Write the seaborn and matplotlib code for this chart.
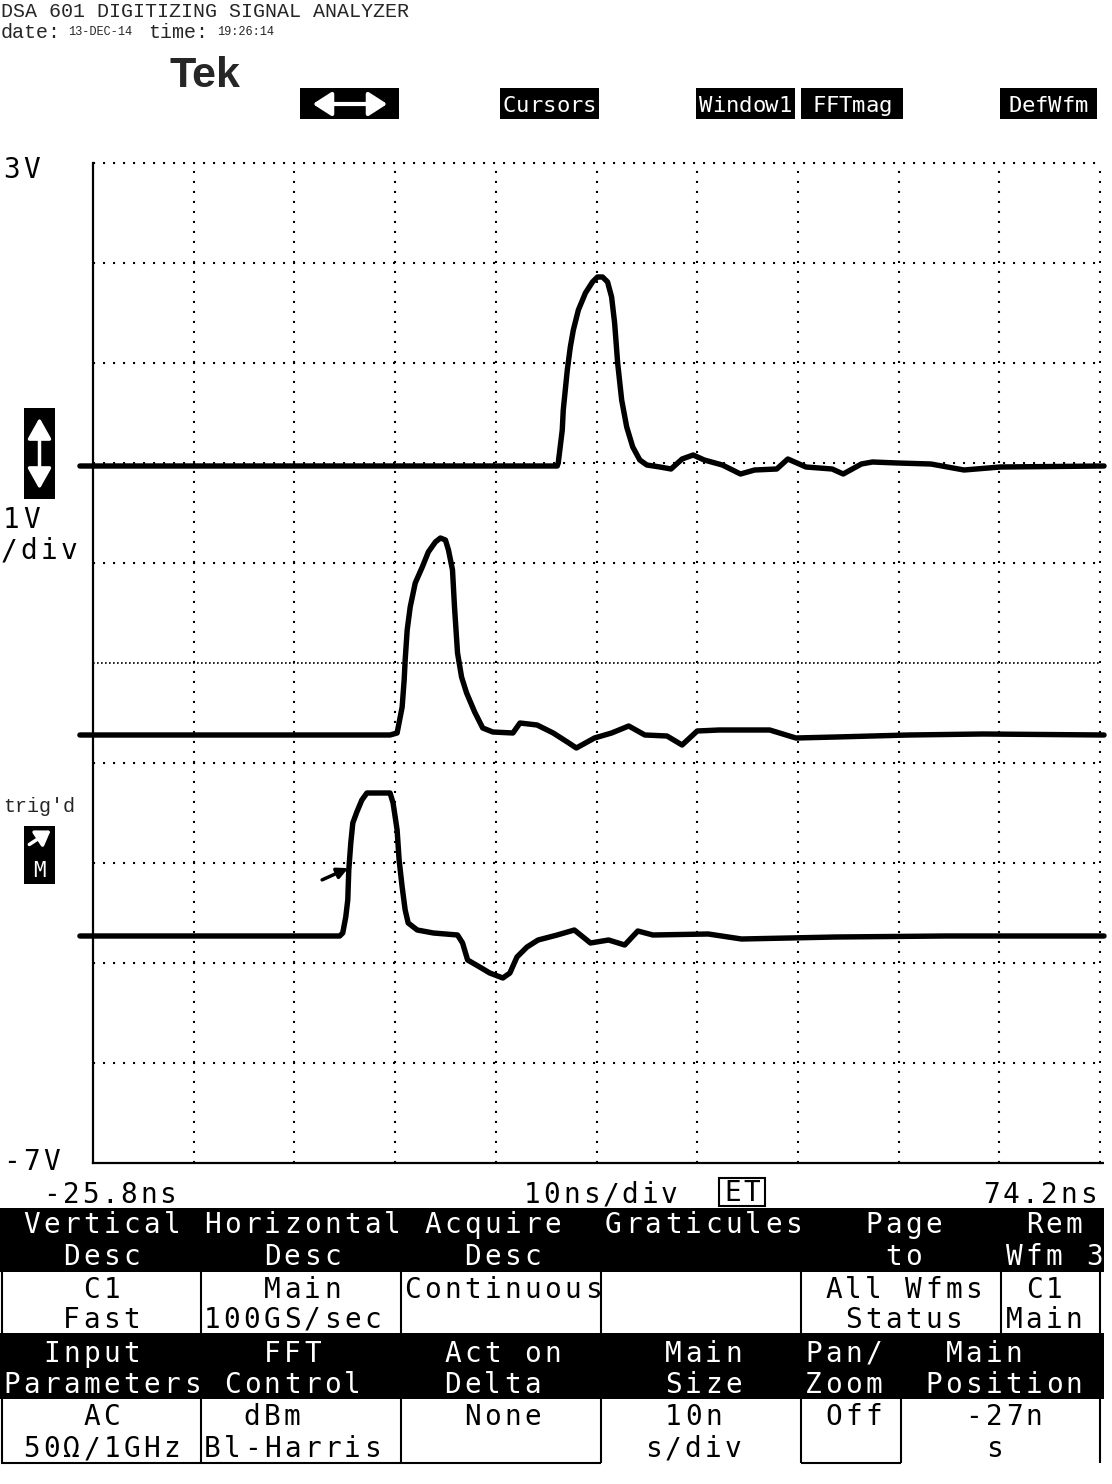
import pandas as pd
import seaborn as sns
import matplotlib.pyplot as plt
from matplotlib.patches import Rectangle, FancyArrowPatch
from matplotlib.lines import Line2D

# Waveforms: time in ns, amplitude in V.
TRACE1_T = [-27.1, 20.3, 20.4, 20.8, 20.9, 21.3, 21.6, 21.9, 22.4, 23.1, 23.8, 24.3, 24.8, 25.3,
            25.7, 26.0, 26.3, 26.7, 27.2, 27.8, 28.5, 29.2, 30.5, 31.6, 32.7, 33.8, 34.9, 36.7,
            38.5, 39.9, 42.1, 43.2, 45.0, 47.6, 48.7, 50.5, 51.6, 54.1, 57.4, 60.7, 64.3, 74.6]
TRACE1_V = [-0.03, -0.03, 0.00, 0.33, 0.53, 0.93, 1.16, 1.33, 1.53, 1.70, 1.81, 1.86, 1.86, 1.81,
            1.66, 1.40, 1.00, 0.63, 0.36, 0.16, 0.03, -0.02, -0.04, -0.06, 0.04, 0.08, 0.03, -0.02,
            -0.11, -0.07, -0.06, 0.04, -0.04, -0.06, -0.11, -0.01, 0.01, 0.00, -0.01, -0.07, -0.04, -0.03]

TRACE2_T = [-27.1, 3.7, 4.4, 4.9, 5.1, 5.2, 5.4, 5.7, 6.2, 6.9, 7.5, 8.2, 8.7, 9.2, 9.5, 9.9,
            10.1, 10.4, 10.8, 11.3, 12.1, 12.9, 13.9, 15.9, 16.6, 18.3, 19.9, 21.3, 22.2, 24.0,
            25.7, 27.4, 29.0, 31.2, 32.7, 34.2, 36.4, 41.4, 44.0, 48.0, 55.2, 62.6, 74.6]
TRACE2_V = [-2.72, -2.72, -2.70, -2.44, -2.17, -1.97, -1.67, -1.44, -1.20, -1.04, -0.89, -0.79,
            -0.75, -0.77, -0.87, -1.07, -1.44, -1.90, -2.14, -2.30, -2.49, -2.65, -2.69, -2.70,
            -2.60, -2.62, -2.70, -2.79, -2.85, -2.75, -2.70, -2.63, -2.72, -2.73, -2.82, -2.68,
            -2.67, -2.67, -2.75, -2.74, -2.72, -2.71, -2.72]

TRACE3_T = [-27.1, -1.3, -1.0, -0.7, -0.5, -0.4, -0.2, 0.0, 0.4, 0.9, 1.4, 3.7, 4.0, 4.4, 4.6,
            4.9, 5.2, 5.5, 6.4, 8.0, 10.4, 10.9, 11.4, 12.6, 13.6, 14.9, 15.6, 16.3, 17.3, 18.4,
            20.3, 22.0, 23.6, 25.4, 27.0, 28.3, 29.8, 35.3, 38.6, 48.0, 58.9, 74.6]
TRACE3_V = [-4.73, -4.73, -4.70, -4.54, -4.37, -4.07, -3.80, -3.60, -3.49, -3.37, -3.30, -3.30,
            -3.40, -3.67, -3.97, -4.24, -4.47, -4.60, -4.67, -4.70, -4.72, -4.80, -4.97, -5.04,
            -5.10, -5.15, -5.10, -4.94, -4.84, -4.77, -4.72, -4.67, -4.80, -4.77, -4.82, -4.68,
            -4.72, -4.71, -4.76, -4.74, -4.73, -4.73]

X_LEFT, X_RIGHT = -25.8, 74.2
V_TOP, V_BOTTOM = 3, -7
GRID_TIMES = [-15.8, -5.8, 4.2, 14.2, 24.2, 34.2, 44.2, 54.2, 64.2, 74.2]
GRID_VOLTS = [3, 2, 1, 0, -1, -3, -4, -5, -6]
CENTER_VOLT = -2
TRIG_TAIL = (-3.3, -4.18)
TRIG_HEAD = (-0.2, -4.04)

# Screen layout, all in output pixels
W, H = 1112, 1484
LCD = "DejaVu Sans Mono"
MONO = "Liberation Mono"
CELL = 20.05

# Menu rows: (grid column, baseline y, text)
MENU_BLACK = [(1, 1233, "Vertical"), (10, 1233, "Horizontal"), (21, 1233, "Acquire"),
              (30, 1233, "Graticules"), (43, 1233, "Page"), (51, 1233, "Rem"),
              (3, 1265, "Desc"), (13, 1265, "Desc"), (23, 1265, "Desc"), (44, 1265, "to"),
              (50, 1265, "Wfm 3"),
              (2, 1362, "Input"), (13, 1362, "FFT"), (22, 1362, "Act on"), (33, 1362, "Main"),
              (40, 1362, "Pan/"), (47, 1362, "Main"),
              (0, 1393, "Parameters"), (11, 1393, "Control"), (22, 1393, "Delta"),
              (33, 1393, "Size"), (40, 1393, "Zoom"), (46, 1393, "Position")]
MENU_WHITE = [(4, 1298, "C1"), (13, 1298, "Main"), (20, 1298, "Continuous"), (41, 1298, "All Wfms"),
              (51, 1298, "C1"),
              (3, 1328, "Fast"), (10, 1328, "100GS/sec"), (42, 1328, "Status"), (50, 1328, "Main"),
              (4, 1425, "AC"), (12, 1425, "dBm"), (23, 1425, "None"), (33, 1425, "10n"),
              (41, 1425, "Off"), (48, 1425, "-27n"),
              (1, 1457, "50Ω/1GHz"), (10, 1457, "Bl-Harris"), (32, 1457, "s/div"), (49, 1457, "s")]
BUTTONS = [(500, 599, "Cursors"), (696, 795, "Window1"), (801, 903, "FFTmag"), (1000, 1097, "DefWfm")]

sns.set_style("white")
fig = plt.figure(figsize=(W / 100, H / 100), dpi=100)


def fx(px):
    return px / W


def fy(py):
    return 1 - py / H


def box(x0, y0, x1, y1, face="black"):
    fig.add_artist(Rectangle((fx(x0), fy(y1)), fx(x1) - fx(x0), fy(y0) - fy(y1),
                             transform=fig.transFigure, facecolor=face, edgecolor="none"))


def seg(x0, y0, x1, y1, lw=1.5, color="black"):
    fig.add_artist(Line2D([fx(x0), fx(x1)], [fy(y0), fy(y1)], transform=fig.transFigure,
                          color=color, lw=lw, solid_capstyle="butt"))


def arrow(x0, y0, x1, y1, style, color="white", lw=2.5, scale=14):
    fig.add_artist(FancyArrowPatch((fx(x0), fy(y0)), (fx(x1), fy(y1)), transform=fig.transFigure,
                                   arrowstyle=style, color=color, lw=lw, mutation_scale=scale))


def lcd(px, py, s, color="black", size=20, step=CELL):
    # the scope font is a fixed cell grid, so place each character in its own cell
    for i, ch in enumerate(s):
        if ch != " ":
            fig.text(fx(px + 8.5 + i * step), fy(py), ch, family=LCD, fontsize=size,
                     color=color, ha="center", va="baseline")


# Graticule and traces
ax = fig.add_axes([fx(93), fy(1163), fx(1100) - fx(93), fy(163) - fy(1163)])
traces = pd.concat([
    pd.DataFrame({"trace": 1, "time": TRACE1_T, "volts": TRACE1_V}),
    pd.DataFrame({"trace": 2, "time": TRACE2_T, "volts": TRACE2_V}),
    pd.DataFrame({"trace": 3, "time": TRACE3_T, "volts": TRACE3_V}),
])
for v in GRID_VOLTS:
    ax.axhline(v, color="black", lw=1.5, ls=(0, (1, 3.8)), clip_on=False, zorder=1)
ax.axhline(CENTER_VOLT, color="black", lw=1.2, ls=(0, (1, 1.4)), zorder=1)
for t in GRID_TIMES:
    ax.axvline(t, color="black", lw=1.5, ls=(0, (1, 3.8)), clip_on=False, zorder=1)
sns.lineplot(data=traces, x="time", y="volts", units="trace", estimator=None, sort=False,
             color="black", lw=3.9, clip_on=False, ax=ax, zorder=3)
ax.annotate("", xy=TRIG_HEAD, xytext=TRIG_TAIL, annotation_clip=False,
            arrowprops=dict(arrowstyle="-|>", color="black", lw=2.5, mutation_scale=16))
ax.set_xlim(X_LEFT, X_RIGHT)
ax.set_ylim(V_BOTTOM, V_TOP)
ax.set_xticks([])
ax.set_yticks([])
ax.set_xlabel("")
ax.set_ylabel("")
for side in ["top", "right"]:
    ax.spines[side].set_visible(False)
for side in ["left", "bottom"]:
    ax.spines[side].set_color("black")
    ax.spines[side].set_linewidth(1.6)
ax.patch.set_alpha(0)
seg(1100, 1163, 1104, 1163, lw=1.6)

# Header
fig.text(fx(1), fy(17), "DSA 601 DIGITIZING SIGNAL ANALYZER", family=MONO, fontsize=14.4, va="baseline")
fig.text(fx(1), fy(38), "date:", family=MONO, fontsize=14.4, va="baseline")
fig.text(fx(68), fy(35), "13-DEC-14", family=MONO, fontsize=8.6, va="baseline")
fig.text(fx(148), fy(38), "time:", family=MONO, fontsize=14.4, va="baseline")
fig.text(fx(217), fy(35), "19:26:14", family=MONO, fontsize=8.6, va="baseline")
fig.text(fx(170), fy(87), "Tek", family="Liberation Sans", fontweight="heavy", fontsize=31, va="baseline")

# Soft-key buttons along the top
box(300, 88, 399, 119)
arrow(310, 104, 390, 104, "<|-|>,head_length=0.7,head_width=0.45", lw=3, scale=16)
for x0, x1, label in BUTTONS:
    box(x0, 88, x1, 119)
    xc = (x0 + x1) / 2
    for i, ch in enumerate(label):
        fig.text(fx(xc + (i - (len(label) - 1) / 2) * 13.3), fy(112), ch, family=LCD,
                 fontsize=16, color="white", ha="center", va="baseline")

# Left-hand scale labels
lcd(3, 178, "3V")
box(24, 408, 55, 499)
arrow(39.5, 492, 39.5, 415, "<|-|>,head_length=0.8,head_width=0.45", lw=2.5, scale=16)
lcd(3, 528, "1V")
lcd(0, 559, "/div")
fig.text(fx(3), fy(812), "trig'd", family=MONO, fontsize=14.4, va="baseline")
box(24, 826, 55, 884)
arrow(27, 846, 53, 829, "-|>,head_length=0.6,head_width=0.4", lw=2.5, scale=14)
fig.text(fx(39.5), fy(877), "M", family=LCD, fontsize=15, color="white", ha="center", va="baseline")
lcd(3, 1170, "-7V")

# Time base line
lcd(43, 1203, "-25.8ns", step=19.4)
lcd(524, 1203, "10ns/div", step=19.5)
fig.add_artist(Rectangle((fx(719), fy(1206)), fx(765) - fx(719), fy(1178) - fy(1206),
                         transform=fig.transFigure, facecolor="white", edgecolor="black", lw=1.5))
lcd(724, 1201, "ET", step=19)
lcd(983, 1203, "74.2ns", step=19.3)

# Menu panel
box(0, 1208, 1104, 1272)
box(0, 1333, 1104, 1399)
for x in [2, 201, 401, 601, 801, 1001, 1100]:
    seg(x, 1272, x, 1333)
for x in [2, 201, 401, 601, 801, 901, 1100]:
    seg(x, 1399, x, 1463)
seg(1, 1463, 601, 1463)
seg(801, 1463, 901, 1463)
for col, base, label in MENU_BLACK:
    lcd(3 + col * CELL, base, label, color="white")
for col, base, label in MENU_WHITE:
    lcd(3 + col * CELL, base, label, color="black")

fig.savefig("out.png", dpi=100, facecolor="white")
